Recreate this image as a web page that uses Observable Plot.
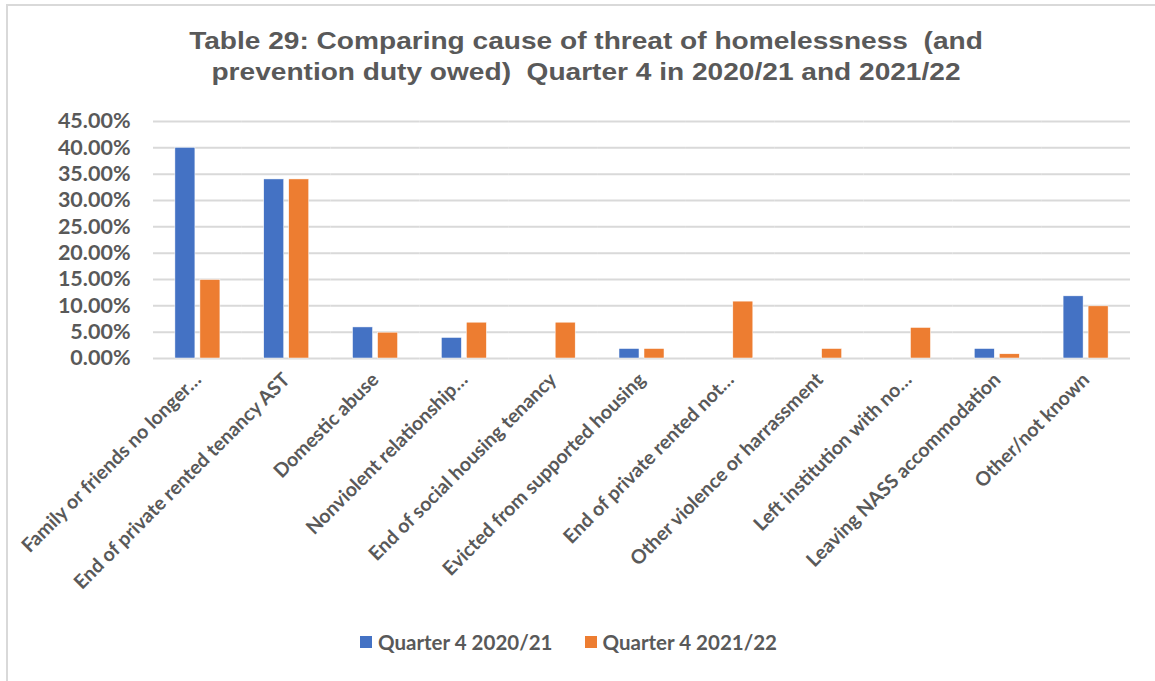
<!DOCTYPE html>
<html>
<head>
<meta charset="utf-8">
<script src="https://cdn.jsdelivr.net/npm/d3@7"></script>
<script src="https://cdn.jsdelivr.net/npm/@observablehq/plot@0.6"></script>
<style>
  html, body { margin: 0; padding: 0; background: #fff; overflow: hidden; }
  #frame {
    position: absolute; left: 6px; top: 4px; width: 1160px; height: 690px;
    border-left: 2px solid #d9d9d9; border-top: 2px solid #d9d9d9; box-sizing: border-box;
  }
  #title {
    position: absolute; left: 236px; top: 25px; width: 700px; text-align: center;
    font-family: "Liberation Sans", Arial, sans-serif; font-weight: bold; font-size: 24px;
    line-height: 31px; color: #595959; white-space: nowrap;
    transform: scaleX(1.17); transform-origin: 350px 0;
  }
  #chart { position: absolute; left: 0; top: 100px; }
  #legend {
    position: absolute; left: 0; top: 630px; width: 1155px; display: flex; justify-content: center;
    font-family: Lato, sans-serif; font-weight: bold; font-size: 20.5px; color: #595959; padding-right: 18px; box-sizing: border-box;
  }
  .item { display: flex; align-items: center; margin: 0 16px; }
  .sw { width: 12px; height: 12px; margin-right: 6px; }
  svg text { fill: #595959; }
</style>
</head>
<body>
<div id="frame"></div>
<div id="title">Table 29: Comparing cause of threat of homelessness&nbsp; (and<br>prevention duty owed)&nbsp; Quarter 4 in 2020/21 and 2021/22</div>
<div id="chart"></div>
<div id="legend"></div>
<script>
const categories = [
  "Family or friends no longer…",
  "End of private rented tenancy AST",
  "Domestic abuse",
  "Nonviolent relationship…",
  "End of social housing tenancy",
  "Evicted from supported housing",
  "End of private rented not…",
  "Other violence or harrassment",
  "Left institution with no…",
  "Leaving NASS accommodation",
  "Other/not known"
];
const seriesNames = ["Quarter 4 2020/21", "Quarter 4 2021/22"];
const q4_2020_21 = [40.0, 34.0, 5.9, 3.9, 0, 1.8, 0, 0, 0, 1.8, 11.8];
const q4_2021_22 = [14.9, 34.0, 4.9, 6.8, 6.8, 1.8, 10.8, 1.8, 5.8, 0.8, 9.9];
const yTicks = [0, 5, 10, 15, 20, 25, 30, 35, 40, 45];
const colors = ["#4472C4", "#ED7D31"];

const data = [];
categories.forEach((c, i) => {
  data.push({category: c, series: seriesNames[0], value: q4_2020_21[i]});
  data.push({category: c, series: seriesNames[1], value: q4_2021_22[i]});
});

const chart = Plot.plot({
  width: 1155,
  height: 520,
  marginTop: 21,
  marginBottom: 262,
  marginLeft: 153,
  marginRight: 25,
  style: {fontFamily: "Lato, sans-serif", fontWeight: "bold", color: "#595959", background: "transparent", overflow: "visible"},
  fx: {domain: categories, padding: 0, round: false, label: null, tickSize: 0, tickRotate: -45, tickPadding: 18},
  x: {domain: seriesNames, paddingInner: 0.2, paddingOuter: 0.876, round: false, axis: null},
  y: {domain: [0, 45], ticks: yTicks, tickFormat: d => d.toFixed(2) + "%", tickSize: 0, tickPadding: 23, label: null, grid: false},
  color: {domain: seriesNames, range: colors},
  marks: [
    Plot.ruleY(yTicks, {stroke: "#d9d9d9", strokeWidth: 2}),
    Plot.barY(data, {fx: "category", x: "series", y: "value", fill: "series", stroke: "white", strokeWidth: 0.5})
  ]
});
document.getElementById("chart").appendChild(chart);

chart.querySelectorAll('g[aria-label^="y-axis"] text').forEach(t => t.setAttribute("font-size", "21.5"));
chart.querySelectorAll('g[aria-label^="fx-axis"] text').forEach(t => t.setAttribute("font-size", "19.5"));

const legend = document.getElementById("legend");
seriesNames.forEach((s, i) => {
  const item = document.createElement("div");
  item.className = "item";
  const sw = document.createElement("div");
  sw.className = "sw";
  sw.style.background = colors[i];
  const tx = document.createElement("span");
  tx.textContent = s;
  item.appendChild(sw); item.appendChild(tx);
  legend.appendChild(item);
});
</script>
</body>
</html>
